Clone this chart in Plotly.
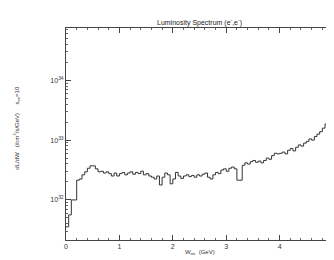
import plotly.graph_objects as go

# Histogram bin edges (GeV) and log10 of luminosity per bin
bin_width = 0.05
w_lo = [round(i * bin_width, 2) for i in range(100)]
log_lum = [
    31.55, 31.75, 32.00, 32.00, 32.33, 32.35, 32.42, 32.47, 32.53, 32.57,
    32.57, 32.52, 32.47, 32.48, 32.45, 32.47, 32.44, 32.40, 32.45, 32.40,
    32.44, 32.46, 32.42, 32.45, 32.47, 32.43, 32.46, 32.44, 32.48, 32.42,
    32.44, 32.40, 32.38, 32.35, 32.40, 32.25, 32.38, 32.45, 32.42, 32.27,
    32.35, 32.46, 32.40, 32.36, 32.40, 32.42, 32.39, 32.41, 32.38, 32.42,
    32.40, 32.43, 32.45, 32.38, 32.35, 32.42, 32.46, 32.44, 32.50, 32.52,
    32.48, 32.53, 32.55, 32.52, 32.33, 32.33, 32.58, 32.62, 32.60, 32.64,
    32.66, 32.63, 32.65, 32.62, 32.66, 32.70, 32.68, 32.74, 32.78, 32.77,
    32.78, 32.80, 32.77, 32.83, 32.86, 32.82, 32.88, 32.92, 32.90, 32.95,
    32.98, 33.02, 33.00, 33.06, 33.10, 33.14, 33.20, 33.27, 33.36, 33.50,
]
lum = [10.0 ** v for v in log_lum]

ytick_vals = [1e32, 1e33, 1e34]
ytick_text = ["10<sup>32</sup>", "10<sup>33</sup>", "10<sup>34</sup>"]
ytick_minor = [float(k) * 10.0 ** n for n in range(31, 35) for k in range(2, 10)]
xtick_vals = [0, 1, 2, 3, 4]

x = w_lo + [5.0]
y = lum + [lum[-1]]

fig = go.Figure()
fig.add_trace(go.Scatter(
    x=x, y=y, mode="lines", line_shape="hv",
    line=dict(color="#333333", width=1), showlegend=False, hoverinfo="skip"))

font = dict(family="Liberation Sans, Arial, sans-serif", color="#333333", size=6)

fig.update_layout(
    width=326, height=252,
    margin=dict(l=58, r=1, t=20, b=20),
    paper_bgcolor="white", plot_bgcolor="white",
    font=font,
    xaxis=dict(range=[0, 5], tickvals=xtick_vals, ticks="inside", ticklen=5,
               tickcolor="#444", showline=True, linecolor="#444", linewidth=1,
               mirror="ticks", showgrid=False, zeroline=False,
               tickfont=dict(size=7),
               minor=dict(ticks="inside", ticklen=2, dtick=0.2, tickcolor="#666", showgrid=False)),
    yaxis=dict(type="log", range=[31.33, 34.875], tickvals=ytick_vals, ticktext=ytick_text,
               ticks="inside", ticklen=5, tickcolor="#444", showline=True, linecolor="#444",
               linewidth=1, mirror="ticks", showgrid=False, zeroline=False,
               tickfont=dict(size=7),
               minor=dict(ticks="inside", ticklen=2, tickvals=ytick_minor,
                          tickcolor="#666", showgrid=False)),
    annotations=[
        dict(text="Luminosity Spectrum (e<sup>-</sup>,e<sup>-</sup>)", xref="paper", yref="paper",
             x=0.5, y=1, yshift=12, showarrow=False, font=dict(size=7, color="#222")),
        dict(text="W<sub>ee</sub>  (GeV)", xref="paper", yref="paper", x=0.5, y=0,
             yshift=-18, showarrow=False, font=dict(size=6, color="#333")),
        dict(text="dL/dW   (/cm<sup>2</sup>/s/GeV)     s<sub>ee</sub>=10", xref="paper", yref="paper",
             x=0, xshift=-49, xanchor="center", y=0.53, yanchor="middle", textangle=-90,
             showarrow=False, font=dict(size=6, color="#333")),
    ],
)

fig.write_html("out.html")
